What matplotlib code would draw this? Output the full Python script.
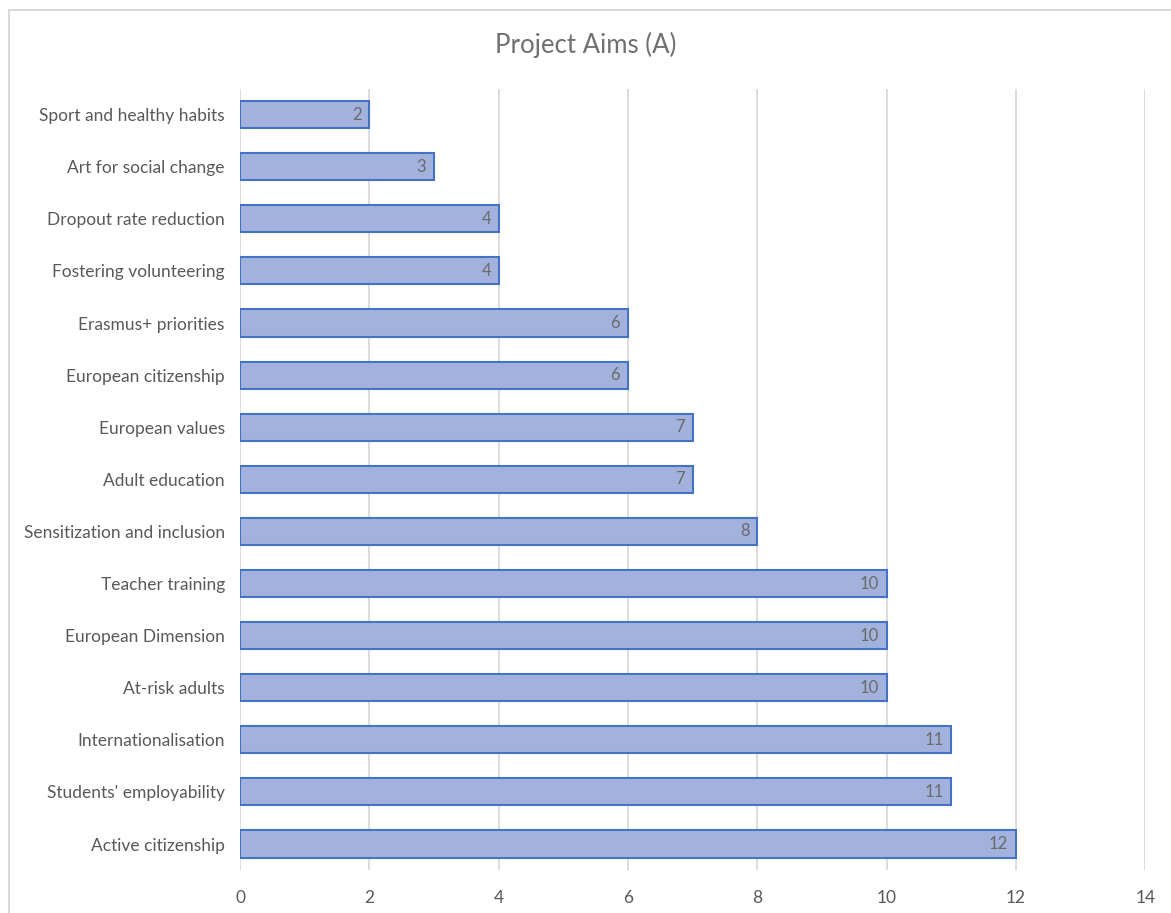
import matplotlib
matplotlib.use("Agg")
import matplotlib.pyplot as plt
from matplotlib.patches import Rectangle

# --- data (top to bottom as shown) ---
aims = [
    "Sport and healthy habits",
    "Art for social change",
    "Dropout rate reduction",
    "Fostering volunteering",
    "Erasmus+ priorities",
    "European citizenship",
    "European values",
    "Adult education",
    "Sensitization and inclusion",
    "Teacher training",
    "European Dimension",
    "At-risk adults",
    "Internationalisation",
    "Students' employability",
    "Active citizenship",
]
counts = [2, 3, 4, 4, 6, 6, 7, 7, 8, 10, 10, 10, 11, 11, 12]

plt.rcParams['font.family'] = ['Lato', 'DejaVu Sans']
grey = "#595959"

fig = plt.figure(figsize=(11.71, 9.13), dpi=100)
ax = fig.add_axes([0.205, 0.047, 0.773, 0.856])

ypos = list(range(len(aims)))
bars = ax.barh(ypos, counts, height=0.52, color="#a2b2dd",
               edgecolor="#4472c4", linewidth=1.5, zorder=3)
ax.set_ylim(len(aims) - 0.5, -0.5)
ax.set_xlim(0, 14)
ax.set_xticks(range(0, 15, 2))
ax.set_yticks(ypos)
ax.set_yticklabels(aims, fontsize=12.5, color=grey)
ax.tick_params(axis='both', length=0, colors=grey, labelsize=12.5)
ax.tick_params(axis='y', pad=11)
ax.tick_params(axis='x', pad=14)
ax.grid(axis='x', color="#d9d9d9", linewidth=1.3, zorder=0)
for s in ax.spines.values():
    s.set_visible(False)

# value labels inside the bar ends
for b, v in zip(bars, counts):
    ax.text(b.get_width() - 0.12, b.get_y() + b.get_height() / 2, str(v),
            ha='right', va='center', fontsize=12, color="#6a6a6a", zorder=4)

fig.text(0.5, 0.951, "Project Aims (A)", ha='center', va='center',
         fontsize=18.5, color="#707070")

# outer chart border
fig.patches.append(Rectangle((0.008, -0.01), 1.0, 0.999, transform=fig.transFigure,
                             fill=False, edgecolor="#d9d9d9", linewidth=1.5))

fig.savefig("out.png", dpi=100, facecolor="white")
